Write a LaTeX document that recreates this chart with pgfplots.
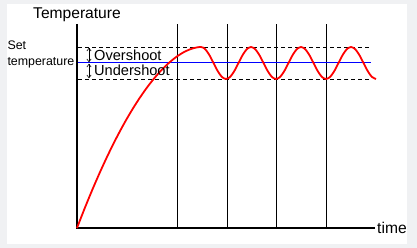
\documentclass[border=0pt]{standalone}
\usepackage{pgfplots}
\pgfplotsset{compat=1.18}
\usepackage{fontspec}
\setmainfont{Liberation Sans}
\usetikzlibrary{arrows.meta}
\begin{document}
\begin{tikzpicture}
\begin{axis}[
  x=1pt, y=1pt,
  xmin=-77, xmax=340, ymin=-20, ymax=228,
  hide axis, clip=false,
  scale only axis,
]
% background
\fill[fill={rgb,255:red,240;green,241;blue,243}] (axis cs:-77,-20) rectangle (axis cs:340,228);
\fill[white] (axis cs:-70,-16) rectangle (axis cs:330,224);
% vertical time lines
\addplot[black, line width=0.8pt] coordinates {(100,0) (100,204)};
\addplot[black, line width=0.8pt] coordinates {(150,0) (150,204)};
\addplot[black, line width=0.8pt] coordinates {(199,0) (199,204)};
\addplot[black, line width=0.8pt] coordinates {(249,0) (249,204)};
% band lines
\addplot[black, line width=0.8pt, dash pattern=on 4pt off 3pt] coordinates {(1,181) (294,181)};
\addplot[black, line width=0.8pt, dash pattern=on 4pt off 3pt] coordinates {(1,149) (294,149)};
\addplot[color={rgb,255:red,0;green,0;blue,255}, line width=1pt] coordinates {(1,165) (294,165)};
% axes
\addplot[black, line width=1.6pt] coordinates {(0,204) (0,0) (298,0)};
% temperature curve
\addplot[red, line width=1.8pt, smooth] coordinates {
(0,0) (7.75,19.85) (15.5,38.66) (23.25,56.43) (31,73.16) (38.75,88.80) (46.5,103.34)
(54.25,116.75) (62,129.02) (69.75,140.13) (77.5,150.03) (85.25,158.70) (93,166.07)
(100.75,172.11) (108.5,176.71) (116.25,179.77)
(124.00,181) (128.17,178.86) (132.33,173) (136.50,165) (140.67,157) (144.83,151.14)
(149.00,149) (153.17,151.14) (157.33,157) (161.50,165) (165.67,173) (169.83,178.86)
(174.00,181) (178.17,178.86) (182.33,173) (186.50,165) (190.67,157) (194.83,151.14)
(199.00,149) (203.17,151.14) (207.33,157) (211.50,165) (215.67,173) (219.83,178.86)
(224.00,181) (228.17,178.86) (232.33,173) (236.50,165) (240.67,157) (244.83,151.14)
(249.00,149) (253.17,151.14) (257.33,157) (261.50,165) (265.67,173) (269.83,178.86)
(274.00,181) (278.17,178.86) (282.33,173) (286.50,165) (290.67,157) (294.83,151.14)
(299.00,149)
};
% arrows
\draw[black, line width=0.6pt, {Straight Barb[length=2.8pt,width=4.2pt]}-{Straight Barb[length=2.8pt,width=4.2pt]}] (axis cs:12,180.3) -- (axis cs:12,165.7);
\draw[black, line width=0.6pt, {Straight Barb[length=2.8pt,width=4.2pt]}-{Straight Barb[length=2.8pt,width=4.2pt]}] (axis cs:12,164.3) -- (axis cs:12,149.7);
% labels
\node[anchor=base west, inner sep=0, font=\fontsize{15.6}{16}\selectfont] at (axis cs:-44,209.7) {Temperature};
\node[anchor=base west, inner sep=0, font=\fontsize{15.6}{16}\selectfont] at (axis cs:300,-6) {time};
\node[anchor=base west, inner sep=0, font=\fontsize{14.6}{15}\selectfont] at (axis cs:17,167.5) {Overshoot};
\node[anchor=base west, inner sep=0, font=\fontsize{14.6}{15}\selectfont] at (axis cs:17,152) {Undershoot};
\node[anchor=base west, inner sep=0, font=\fontsize{12.4}{13}\selectfont] at (axis cs:-69.7,178.7) {Set};
\node[anchor=base west, inner sep=0, font=\fontsize{12.4}{13}\selectfont] at (axis cs:-69.7,162.3) {temperature};
\end{axis}
\end{tikzpicture}
\end{document}
